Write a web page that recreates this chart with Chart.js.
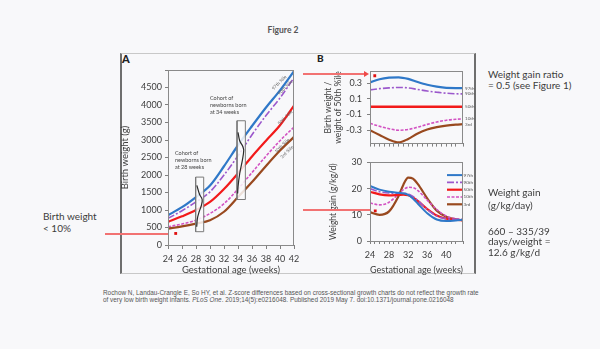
<!DOCTYPE html>
<html>
<head>
<meta charset="utf-8">
<script src="https://cdn.jsdelivr.net/npm/chart.js@4.4.1/dist/chart.umd.min.js"></script>
<style>
html,body{margin:0;padding:0;background:#f8f8fa;}
#page{position:relative;width:600px;height:349px;overflow:hidden;font-family:Lato,"Open Sans",sans-serif;color:#3c3c3c;}
canvas{position:absolute;}
.t{position:absolute;white-space:nowrap;}
#frame{position:absolute;left:120px;top:53px;width:356px;height:221px;box-sizing:border-box;border-top:1px solid #c8c8c8;border-bottom:1px solid #c8c8c8;border-left:2px solid #6e6e6e;border-right:2px solid #6e6e6e;}
.redline{position:absolute;height:2px;background:#f27272;}
.arrowhead{position:absolute;width:0;height:0;border-top:3px solid transparent;border-bottom:3px solid transparent;border-left:5px solid #f04848;}
</style>
</head>
<body>
<div id="page">
  <div class="t" style="left:283px;top:25px;transform:translateX(-50%);font-size:8.5px;font-weight:700;color:#555;">Figure 2</div>
  <div id="frame"></div>
  <div class="t" style="left:122px;top:52px;font-size:11px;font-weight:900;color:#222;">A</div>
  <div class="t" style="left:317px;top:52px;font-size:10px;font-weight:900;color:#222;">B</div>

  <canvas id="chartA" width="192" height="217" style="left:115px;top:60px;"></canvas>
  <canvas id="chartB1" width="159" height="93" style="left:321px;top:61px;"></canvas>
  <canvas id="chartB2" width="156" height="125" style="left:324px;top:152px;"></canvas>

  <div class="t" style="left:210px;top:95px;font-size:5.5px;line-height:7px;color:#444;">Cohort of<br>newborns born<br>at 34 weeks</div>
  <div class="t" style="left:175px;top:150px;font-size:5.5px;line-height:7px;color:#444;">Cohort of<br>newborns born<br>at 28 weeks</div>

  <div class="t" style="left:488px;top:69px;font-size:10px;line-height:11px;">Weight gain ratio<br>= 0.5 (see Figure 1)</div>
  <div class="t" style="left:488px;top:186px;font-size:10px;line-height:13px;">Weight gain<br>(g/kg/day)</div>
  <div class="t" style="left:488px;top:225.5px;font-size:10px;line-height:10.5px;">660 &ndash; 335/39<br>days/weight =<br>12.6 g/kg/d</div>
  <div class="t" style="left:43px;top:210px;font-size:10px;line-height:12px;">Birth weight<br>&lt; 10%</div>

  <div class="t" style="left:103px;top:290px;font-family:'Liberation Sans',Arial,sans-serif;font-size:6.4px;line-height:6.6px;color:#555;">Rochow N, Landau-Crangle E, So HY, et al. Z-score differences based on cross-sectional growth charts do not reflect the growth rate<br>of very low birth weight infants. <i>PLoS One</i>. 2019;14(5):e0216048. Published 2019 May 7. doi:10.1371/journal.pone.0216048</div>

  <div class="redline" style="left:303px;top:73px;width:62px;"></div>
  <div class="arrowhead" style="left:364px;top:71px;"></div>
  <div class="redline" style="left:303px;top:208.5px;width:67px;"></div>
  <div class="redline" style="left:105px;top:232.5px;width:63px;"></div>
</div>

<script>
// Panel A: birth weight percentiles (g)
const weeksA = [24, 26, 28, 30, 32, 34, 36, 38, 40, 42];
const bw97 = [850, 1080, 1370, 1700, 2250, 2850, 3400, 3930, 4420, 4970];
const bw90 = [760, 980, 1230, 1520, 2000, 2550, 3150, 3700, 4200, 4780];
const bw50 = [660, 820, 1000, 1230, 1600, 2050, 2530, 2980, 3420, 3980];
const bw10 = [520, 600, 710, 900, 1180, 1600, 2070, 2540, 2980, 3370];
const bw3 = [470, 530, 610, 710, 950, 1370, 1800, 2260, 2700, 3090];
const pctLabelsA = ['97th %ile', '90th %ile', '50th %ile', '10th %ile', '3rd %ile'];

// cohort boxes [from week, to week] and [low g, high g]
const cohortWeeks = [[27.95, 29.1], [33.86, 35.05]];
const cohortGrams = [[380, 1940], [1300, 3550]];
const cohort28X = [28.12, 28.5, 28.88, 28.78, 28.45, 28.2, 28.1];
const cohort28Y = [1705, 1450, 1300, 1140, 950, 760, 520];
const cohort34X = [34.0, 34.24, 34.7, 34.82, 34.62, 34.24, 34.0, 33.95];
const cohort34Y = [3220, 2980, 2810, 2700, 2415, 2035, 1655, 1470];
const markA = [25.1, 330];

// Panel B top: birth weight / weight of 50th %ile
const weeksB = [24, 26, 28, 30, 32, 34, 36, 38, 40, 42, 43.5];
const ratio97 = [0.31, 0.35, 0.37, 0.375, 0.355, 0.315, 0.28, 0.255, 0.24, 0.238, 0.238];
const ratio90 = [0.215, 0.23, 0.24, 0.245, 0.24, 0.22, 0.2, 0.185, 0.172, 0.165, 0.163];
const ratio50 = [0, 0, 0, 0, 0, 0, 0, 0, 0, 0, 0];
const ratio10 = [-0.21, -0.25, -0.28, -0.3, -0.29, -0.26, -0.225, -0.195, -0.172, -0.16, -0.155];
const ratio3 = [-0.3, -0.36, -0.42, -0.455, -0.41, -0.34, -0.29, -0.26, -0.24, -0.228, -0.222];
const ratioTicks = [-0.3, -0.1, 0.1, 0.3];
const markB1 = [25, 0.395];

// Panel B bottom: weight gain (g/kg/d)
const weeksG = [24, 26, 28, 30, 31, 32, 33, 34, 36, 38, 40, 42, 43.5];
const gain97 = [21, 19.6, 18.8, 18.4, 18.2, 17.6, 16.2, 14.3, 10.6, 8.2, 7.6, 7.8, 8.1];
const gain90 = [20, 18.8, 18.3, 18.2, 18.2, 18.0, 17.0, 15.5, 12.0, 9.5, 8.5, 8.3, 8.3];
const gain50 = [18.8, 17.8, 17.4, 17.6, 17.7, 17.5, 16.6, 15.3, 12.2, 9.7, 8.5, 8.1, 7.9];
const gain10 = [14.5, 13.8, 14.8, 18.0, 19.6, 20.5, 20.4, 19.3, 15.6, 12.0, 9.5, 8.5, 8.1];
const gain3 = [11, 10, 11.3, 17.2, 21.5, 24.2, 23.8, 21.8, 16.3, 11.6, 9.3, 8.3, 7.9];
const shortLabels = ['97th', '90th', '50th', '10th', '3rd'];
const markB2 = [25.1, 11.5];

const C97 = '#2f78c8', C90 = '#9b58cc', C50 = '#f21a1a', C10 = '#d252c2', C3 = '#99491f';
const DASH90 = [7, 2, 2, 2], DASH10 = [3, 1.5];

Chart.defaults.font.family = 'Lato, "Open Sans", sans-serif';
Chart.defaults.color = '#3c3c3c';
Chart.defaults.animation = false;
Chart.defaults.plugins.legend.display = false;
Chart.defaults.plugins.tooltip.enabled = false;

const pts = (xs, ys) => xs.map((x, i) => ({x, y: ys[i]}));

function series(xs, ys, color, width, dash) {
  return {data: pts(xs, ys), borderColor: color, backgroundColor: color, borderWidth: width,
    borderDash: dash || [], pointRadius: 0, cubicInterpolationMode: 'monotone', fill: false, order: 3};
}
function mark(m) {
  return {data: [{x: m[0], y: m[1]}], showLine: false, pointStyle: 'rect', pointRadius: 2,
    backgroundColor: '#e01010', borderColor: '#e01010', borderWidth: 0, order: 0};
}
function cohortBox(i) {
  const [x0, x1] = cohortWeeks[i], [y0, y1] = cohortGrams[i];
  return {data: pts([x0, x1, x1, x0, x0], [y0, y0, y1, y1, y0]), borderColor: '#7a7a7a', borderWidth: 1,
    backgroundColor: 'rgba(250,250,250,0.85)', fill: 'shape', pointRadius: 0, tension: 0, order: 2};
}
function cohortCurve(xs, ys) {
  return {data: pts(xs, ys), borderColor: '#2a2a2a', borderWidth: 1.2, pointRadius: 0, tension: 0.35, fill: false, order: 1};
}

const plotBox = {
  id: 'plotBox',
  afterDatasetsDraw(c) {
    const a = c.chartArea, ctx = c.ctx;
    ctx.save();
    ctx.strokeStyle = '#8a8a8a';
    ctx.lineWidth = 1;
    ctx.strokeRect(Math.round(a.left) + 0.5, Math.round(a.top) + 0.5, Math.round(a.width) - 1, Math.round(a.height));
    ctx.restore();
  }
};

const axisX = (min, max, extra) => Object.assign({
  type: 'linear', min, max,
  grid: {drawOnChartArea: false, tickLength: 4, color: '#808080'},
  border: {color: '#808080'}
}, extra);

// ---------- Panel A ----------
const labelsA = {
  id: 'labelsA',
  afterDraw(c) {
    const ctx = c.ctx, xs = c.scales.x, ys = c.scales.y;
    const spots = [[39.9, 4640], [40.75, 4500], [40.75, 3640], [40.3, 2840], [41.0, 2660]];
    ctx.save();
    ctx.font = '4.6px Lato, sans-serif';
    ctx.fillStyle = '#666';
    ctx.textAlign = 'center';
    ctx.textBaseline = 'middle';
    spots.forEach((s, i) => {
      ctx.save();
      ctx.translate(xs.getPixelForValue(s[0]), ys.getPixelForValue(s[1]));
      ctx.rotate(-Math.PI / 4);
      ctx.fillText(pctLabelsA[i], 0, 0);
      ctx.restore();
    });
    ctx.restore();
  }
};

new Chart(document.getElementById('chartA'), {
  type: 'line',
  data: {datasets: [
    mark(markA),
    cohortCurve(cohort28X, cohort28Y),
    cohortCurve(cohort34X, cohort34Y),
    cohortBox(0), cohortBox(1),
    series(weeksA, bw97, C97, 2.2),
    series(weeksA, bw90, C90, 1.6, DASH90),
    series(weeksA, bw50, C50, 2.2),
    series(weeksA, bw10, C10, 1.6, DASH10),
    series(weeksA, bw3, C3, 2.2)
  ]},
  options: {
    responsive: false,
    layout: {padding: {left: 0, top: 10, right: 13, bottom: 0}},
    scales: {
      x: axisX(24, 42, {
        afterFit(s) { s.height = 32; },
        ticks: {stepSize: 2, autoSkip: false, maxRotation: 0, font: {size: 9}, padding: 5},
        title: {display: true, text: 'Gestational age (weeks)', font: {size: 9.5}, padding: {top: 0, bottom: 1}}
      }),
      y: {
        min: 0, max: 5000,
        afterFit(s) { s.width = 53; },
        ticks: {stepSize: 500, font: {size: 9}, padding: 3, callback: v => v >= 5000 ? '' : v},
        grid: {drawOnChartArea: false, tickLength: 3, color: '#808080'},
        border: {color: '#808080'},
        title: {display: true, text: 'Birth weight (g)', font: {size: 9.5}, padding: {top: 4, bottom: 0}}
      }
    }
  },
  plugins: [plotBox, labelsA]
});

// ---------- Panel B top ----------
const endLabels = {
  id: 'endLabels',
  afterDraw(c) {
    const ctx = c.ctx, ys = c.scales.y, a = c.chartArea;
    ctx.save();
    ctx.font = '4.6px Lato, sans-serif';
    ctx.fillStyle = '#555';
    ctx.textBaseline = 'middle';
    c.data.datasets.forEach(d => {
      if (!d.tag) return;
      const last = d.data[d.data.length - 1];
      ctx.fillText(d.tag, a.right + 2, ys.getPixelForValue(last.y));
    });
    ctx.restore();
  }
};

const withTag = (ds, tag) => Object.assign(ds, {tag});

new Chart(document.getElementById('chartB1'), {
  type: 'line',
  data: {datasets: [
    mark(markB1),
    withTag(series(weeksB, ratio97, C97, 2.2), shortLabels[0]),
    withTag(series(weeksB, ratio90, C90, 1.6, DASH90), shortLabels[1]),
    withTag(series(weeksB, ratio50, C50, 2.6), shortLabels[2]),
    withTag(series(weeksB, ratio10, C10, 1.6, DASH10), shortLabels[3]),
    withTag(series(weeksB, ratio3, C3, 2.2), shortLabels[4])
  ]},
  options: {
    responsive: false,
    layout: {padding: {left: 0, top: 10, right: 17, bottom: 0}},
    scales: {
      x: axisX(24, 43.5, {
        afterFit(s) { s.height = 4; },
        ticks: {stepSize: 1, display: false},
        grid: {drawOnChartArea: false, tickLength: 3, color: '#808080'}
      }),
      y: {
        min: -0.47, max: 0.45,
        afterFit(s) { s.width = 49; },
        afterBuildTicks(s) { s.ticks = ratioTicks.map(v => ({value: v})); },
        ticks: {font: {size: 9}, padding: 5, callback: v => v.toFixed(1)},
        grid: {drawOnChartArea: false, tickLength: 3, color: '#808080'},
        border: {color: '#808080'},
        title: {display: true, text: ['Birth weight /', 'weight of 50th %ile'], font: {size: 8.5}, padding: {top: 2, bottom: 0}}
      }
    }
  },
  plugins: [plotBox, endLabels]
});

// ---------- Panel B bottom ----------
const miniLegend = {
  id: 'miniLegend',
  afterDraw(c) {
    const ctx = c.ctx, a = c.chartArea;
    ctx.save();
    ctx.font = '4.6px Lato, sans-serif';
    ctx.fillStyle = '#555';
    ctx.textBaseline = 'middle';
    let row = 0;
    c.data.datasets.forEach(d => {
      if (!d.tag) return;
      const y = a.top + 12.7 + row * 7.3;
      ctx.strokeStyle = d.borderColor;
      ctx.lineWidth = d.borderWidth;
      ctx.setLineDash(d.borderDash || []);
      ctx.beginPath();
      ctx.moveTo(a.right - 16, y);
      ctx.lineTo(a.right - 1, y);
      ctx.stroke();
      ctx.setLineDash([]);
      ctx.fillText(d.tag, a.right + 0.5, y);
      row++;
    });
    ctx.restore();
  }
};

new Chart(document.getElementById('chartB2'), {
  type: 'line',
  data: {datasets: [
    mark(markB2),
    withTag(series(weeksG, gain97, C97, 2), shortLabels[0]),
    withTag(series(weeksG, gain90, C90, 1.6, DASH90), shortLabels[1]),
    withTag(series(weeksG, gain50, C50, 2.2), shortLabels[2]),
    withTag(series(weeksG, gain10, C10, 1.6, DASH10), shortLabels[3]),
    withTag(series(weeksG, gain3, C3, 2.2), shortLabels[4])
  ]},
  options: {
    responsive: false,
    layout: {padding: {left: 0, top: 7, right: 17, bottom: 0}},
    scales: {
      x: axisX(24, 43.5, {
        afterFit(s) { s.height = 36; },
        ticks: {stepSize: 1, autoSkip: false, maxRotation: 0, font: {size: 9}, padding: 6,
          callback: v => (v - 24) % 4 === 0 && v <= 40 ? v : ''},
        grid: {drawOnChartArea: false, tickLength: 3, color: '#808080'},
        title: {display: true, text: 'Gestational age (weeks)', font: {size: 9.5}, padding: {top: 0, bottom: 1}}
      }),
      y: {
        min: 0, max: 30,
        afterFit(s) { s.width = 46; },
        ticks: {stepSize: 5, font: {size: 9}, padding: 5},
        grid: {drawOnChartArea: false, tickLength: 3, color: '#808080'},
        border: {color: '#808080'},
        title: {display: true, text: 'Weight gain (g/kg/d)', font: {size: 8.5}, padding: {top: 4, bottom: 0}}
      }
    }
  },
  plugins: [plotBox, miniLegend]
});
</script>
</body>
</html>
